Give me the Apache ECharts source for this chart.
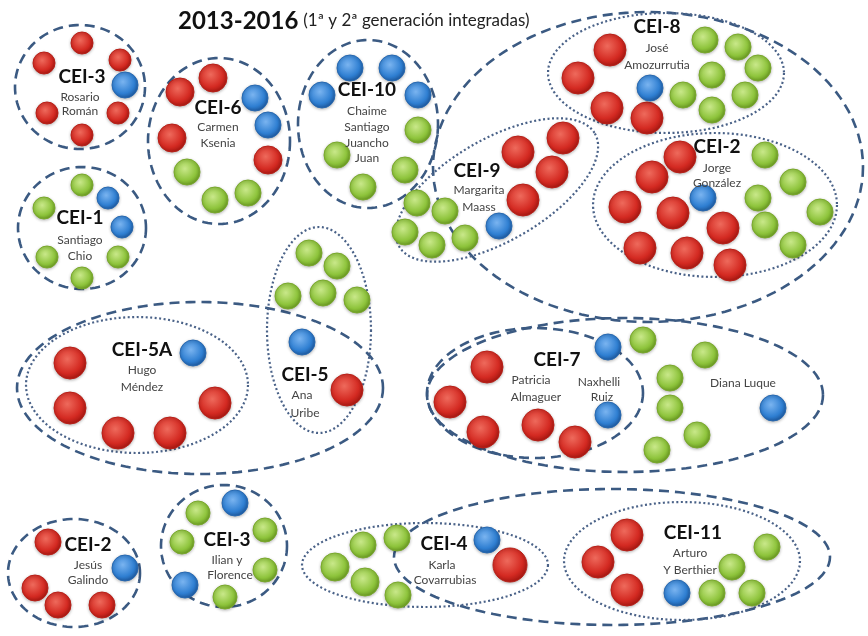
<!DOCTYPE html>
<html>
<head>
<meta charset="utf-8">
<script src="https://cdn.jsdelivr.net/npm/echarts@6/dist/echarts.min.js"></script>
<style>
  html, body { margin: 0; padding: 0; background: #fff; }
  #main { width: 868px; height: 636px; }
</style>
</head>
<body>
<div id="main"></div>
<script>
// dots: [x, y, radius]
const redDots = [
  [82, 43, 11], [44, 63, 11], [120, 60, 11], [47, 113, 11], [118, 113, 11], [82, 135, 11],
  [213, 78, 14], [180, 92, 14], [172, 138, 14], [268, 160, 14],
  [518, 152, 16], [563, 138, 16], [552, 172, 16], [523, 200, 16],
  [610, 50, 16], [578, 78, 16], [607, 108, 16], [647, 118, 16],
  [680, 157, 16], [652, 177, 16], [625, 207, 16], [673, 213, 16], [723, 228, 16],
  [640, 248, 16], [687, 253, 16], [730, 265, 16],
  [70, 363, 16], [70, 408, 16], [118, 433, 16], [170, 433, 16], [215, 403, 16],
  [347, 390, 16],
  [487, 367, 16], [450, 402, 16], [483, 432, 16], [538, 425, 16], [575, 442, 16],
  [48, 542, 13], [35, 588, 13], [58, 605, 13], [102, 605, 13],
  [510, 565, 17],
  [627, 535, 16], [598, 562, 16], [627, 590, 16]
];
const greenDots = [
  [187, 172, 13], [215, 200, 13], [248, 193, 13],
  [82, 185, 11], [44, 208, 11], [47, 257, 11], [118, 257, 11], [82, 278, 11],
  [418, 130, 13], [337, 155, 13], [405, 170, 13], [363, 187, 13],
  [417, 203, 13], [445, 211, 13], [405, 232, 13], [432, 245, 13], [465, 238, 13],
  [705, 40, 13], [738, 47, 13], [712, 75, 13], [758, 68, 13], [683, 95, 13], [745, 95, 13], [712, 110, 13],
  [765, 155, 13], [793, 182, 13], [758, 198, 13], [820, 212, 13], [765, 225, 13], [793, 245, 13],
  [309, 253, 13], [337, 266, 13], [288, 296, 13], [323, 293, 13], [357, 300, 13],
  [643, 340, 13], [705, 355, 13], [670, 378, 13], [670, 408, 13], [697, 435, 13], [657, 450, 13],
  [198, 513, 12], [182, 542, 12], [265, 530, 12], [265, 570, 12], [225, 597, 12],
  [335, 567, 14], [363, 545, 13], [397, 538, 13], [365, 582, 14], [398, 595, 13],
  [712, 593, 13], [752, 593, 13], [732, 567, 13], [767, 547, 13]
];
const blueDots = [
  [125, 85, 13],
  [255, 98, 13], [268, 125, 13],
  [108, 198, 11], [122, 227, 11],
  [350, 68, 13], [392, 68, 13], [322, 95, 13], [418, 95, 13],
  [499, 226, 13],
  [650, 88, 13],
  [703, 198, 13],
  [193, 353, 13],
  [302, 342, 13],
  [608, 347, 13], [608, 415, 13], [773, 408, 13],
  [125, 568, 13],
  [235, 503, 13], [185, 585, 13],
  [487, 540, 13],
  [677, 593, 13]
];

// rings: [cx, cy, rx, ry, rotationDeg]
const dashedRings = [
  [80, 87, 65, 62, 0],
  [219, 141, 71, 83, 0],
  [82, 228, 64, 61, 0],
  [368, 124, 70, 84, 0],
  [648, 167, 215, 155, 0],
  [200, 388, 183, 86, 0],
  [535, 393, 108, 65, 0],
  [625, 395, 198, 77, 0],
  [74, 573, 66, 54, 0],
  [224, 546, 63, 61, 0],
  [612, 557, 218, 68, 0]
];
const dottedRings = [
  [666, 73, 118, 60, 0],
  [715, 205, 122, 72, 0],
  [497, 190, 113, 51, -30],
  [319, 330, 52, 103, 0],
  [137, 385, 111, 68, 0],
  [425, 565, 123, 42, 0],
  [682, 561, 118, 59, 0]
];

// group heads: [x, y, text]
const groupHeads = [
  [82, 77, 'CEI-3'], [218, 108, 'CEI-6'], [80, 218, 'CEI-1'], [367, 90, 'CEI-10'],
  [477, 171, 'CEI-9'], [657, 27, 'CEI-8'], [717, 147, 'CEI-2'], [142, 350, 'CEI-5A'],
  [305, 375, 'CEI-5'], [557, 360, 'CEI-7'], [88, 545, 'CEI-2'], [227, 540, 'CEI-3'],
  [444, 544, 'CEI-4'], [693, 533, 'CEI-11']
];
// people: [x, y, text]
const people = [
  [80, 97, 'Rosario'], [80, 111, 'Román'],
  [218, 127, 'Carmen'], [218, 143, 'Ksenia'],
  [80, 240, 'Santiago'], [80, 256, 'Chio'],
  [367, 111, 'Chaime'], [367, 127, 'Santiago'], [367, 143, 'Juancho'], [367, 158, 'Juan'],
  [479, 190, 'Margarita'], [479, 207, 'Maass'],
  [657, 48, 'José'], [657, 65, 'Amozurrutia'],
  [717, 168, 'Jorge'], [717, 183, 'González'],
  [142, 370, 'Hugo'], [142, 387, 'Méndez'],
  [302, 395, 'Ana'], [305, 413, 'Uribe'],
  [531, 380, 'Patricia'], [536, 397, 'Almaguer'],
  [599, 382, 'Naxhelli'], [602, 397, 'Ruiz'],
  [743, 383, 'Diana Luque'],
  [88, 565, 'Jesús'], [88, 580, 'Galindo'],
  [227, 560, 'Ilian y'], [230, 575, 'Florence'],
  [442, 565, 'Karla'], [445, 580, 'Covarrubias'],
  [690, 553, 'Arturo'], [690, 570, 'Y Berthier']
];

const titleMain = '2013-2016';
const titleSub = '(1ª y 2ª generación integradas)';

const FONT = 'Lato, "Open Sans", sans-serif';

function ball(light, mid, dark) {
  return {
    type: 'radial', x: 0.42, y: 0.38, r: 0.62,
    colorStops: [
      { offset: 0, color: light },
      { offset: 0.7, color: mid },
      { offset: 1, color: dark }
    ]
  };
}

function ringRenderer(dash, width, color) {
  return function (params, api) {
    const c = api.coord([api.value(0), api.value(1)]);
    const s = api.size([api.value(2), api.value(3)]);
    const rx = Math.abs(s[0]), ry = Math.abs(s[1]);
    const rot = api.value(4) * Math.PI / 180;
    const pts = [];
    for (let i = 0; i <= 120; i++) {
      const t = i / 120 * Math.PI * 2;
      const x = rx * Math.cos(t), y = ry * Math.sin(t);
      pts.push([c[0] + x * Math.cos(rot) - y * Math.sin(rot),
                c[1] + x * Math.sin(rot) + y * Math.cos(rot)]);
    }
    return {
      type: 'polyline',
      shape: { points: pts },
      style: { fill: null, stroke: color, lineWidth: width, lineDash: dash }
    };
  };
}

function textRenderer(list, size, weight, color) {
  return function (params, api) {
    const c = api.coord([api.value(0), api.value(1)]);
    return {
      type: 'text',
      x: c[0], y: c[1],
      style: {
        text: list[params.dataIndex][2],
        fontSize: size, fontWeight: weight, fontFamily: FONT,
        fill: color, align: 'center', verticalAlign: 'middle'
      }
    };
  };
}

function dotSeries(name, data, fill, border) {
  return {
    name: name, type: 'scatter', data: data, z: 3,
    symbolSize: (v) => v[2] * 2,
    itemStyle: {
      color: fill, borderColor: border, borderWidth: 1, opacity: 1,
      shadowBlur: 3, shadowColor: 'rgba(0,0,0,0.25)', shadowOffsetY: 1
    },
    emphasis: { disabled: true }
  };
}

const chart = echarts.init(document.getElementById('main'));
chart.setOption({
  animation: false,
  backgroundColor: '#ffffff',
  title: {
    text: '{a|' + titleMain + '} {b|' + titleSub + '}',
    left: 173, top: 4,
    textStyle: {
      fontWeight: 'normal',
      rich: {
        a: { fontSize: 24, fontWeight: 'bold', fontFamily: FONT, color: '#111' },
        b: { fontSize: 17, fontWeight: 'normal', fontFamily: FONT, color: '#222' }
      }
    }
  },
  grid: { left: 0, right: 0, top: 0, bottom: 0 },
  xAxis: { type: 'value', min: 0, max: 868, show: false },
  yAxis: { type: 'value', min: 0, max: 636, inverse: true, show: false },
  series: [
    { name: 'dashed', type: 'custom', z: 2, data: dashedRings, silent: true,
      renderItem: ringRenderer([10, 6], 2.6, '#3b5a82') },
    { name: 'dotted', type: 'custom', z: 2, data: dottedRings, silent: true,
      renderItem: ringRenderer([2, 2.5], 2.2, '#4a6288') },
    dotSeries('red', redDots, ball('#ee6a5c', '#d42a22', '#a81812'), '#b82018'),
    dotSeries('green', greenDots, ball('#c9e88a', '#8ec43c', '#6a9a22'), '#79a82c'),
    dotSeries('blue', blueDots, ball('#7ab4f0', '#2f7fd2', '#1e5aa0'), '#2768b0'),
    { name: 'heads', type: 'custom', z: 5, data: groupHeads, silent: true,
      renderItem: textRenderer(groupHeads, 19, 'bold', '#111') },
    { name: 'people', type: 'custom', z: 5, data: people, silent: true,
      renderItem: textRenderer(people, 12, 'normal', '#444') }
  ]
});
</script>
</body>
</html>
